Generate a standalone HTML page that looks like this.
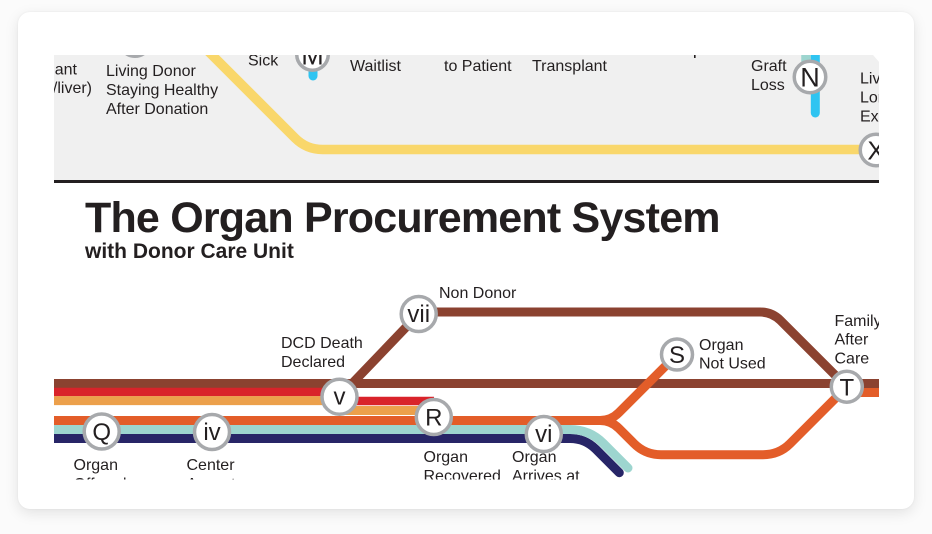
<!DOCTYPE html>
<html>
<head>
<meta charset="utf-8">
<style>
html,body{margin:0;padding:0;}
body{width:932px;height:534px;background:#fbfbfb;position:relative;overflow:hidden;font-family:"Liberation Sans",sans-serif;}
.card{position:absolute;left:18px;top:12px;width:896px;height:497px;background:#fff;border-radius:12px;box-shadow:0 4px 14px rgba(0,0,0,0.10),0 0 2px rgba(0,0,0,0.06);}
svg{position:absolute;left:0;top:0;}
text{font-family:"Liberation Sans",sans-serif;fill:#231F20;}
.lbl{font-size:16px;}
.nd{font-size:24px;text-anchor:middle;}
.ndt{font-size:27px;text-anchor:middle;}
</style>
</head>
<body>
<div class="card"></div>
<svg width="932" height="534" viewBox="0 0 932 534">
  <defs>
    <clipPath id="c"><rect x="54" y="55" width="825" height="424.5"/></clipPath>
  </defs>
  <g clip-path="url(#c)">
    <!-- top grey panel -->
    <rect x="54" y="55" width="826" height="125" fill="#F0F0F0"/>
    <polygon points="873,55 880,55 880,63" fill="#fff"/>
    <rect x="54" y="180" width="826" height="3" fill="#231F20"/>

    <!-- yellow line -->
    <path d="M 202 45 L 295.2 138.2 Q 306.5 149.5 322.5 149.5 L 885 149.5" fill="none" stroke="#F9D76B" stroke-width="9.5"/>

    <!-- N lines -->
    <line x1="806" y1="40" x2="806" y2="77" stroke="#9DD5CF" stroke-width="9.5"/>
    <line x1="815.3" y1="40" x2="815.3" y2="113" stroke="#2FC4F1" stroke-width="9" stroke-linecap="round"/>
    <!-- M line -->
    <line x1="313" y1="54" x2="313" y2="76" stroke="#2FC4F1" stroke-width="9" stroke-linecap="round"/>

    <!-- top nodes -->
    <circle cx="135" cy="40.5" r="15.75" fill="#fff" stroke="#A7A9AC" stroke-width="3.5"/>
    <circle cx="312.5" cy="54.5" r="15.75" fill="#fff" stroke="#A7A9AC" stroke-width="3.5"/>
    <text class="ndt" x="312.5" y="64.5">M</text>
    <circle cx="810" cy="77" r="15.75" fill="#fff" stroke="#A7A9AC" stroke-width="3.5"/>
    <text class="ndt" x="810" y="86.5" style="font-size:27px">N</text>
    <circle cx="876" cy="150" r="15.75" fill="#fff" stroke="#A7A9AC" stroke-width="3.5"/>
    <text class="ndt" x="876" y="159.5" style="font-size:26px">X</text>

    <!-- top labels -->
    <text class="lbl" x="77" y="74.5" text-anchor="end">Transplant</text>
    <text class="lbl" x="92" y="93" text-anchor="end">(w/liver)</text>
    <text class="lbl" x="106" y="76">Living Donor</text>
    <text class="lbl" x="106" y="95">Staying Healthy</text>
    <text class="lbl" x="106" y="114">After Donation</text>
    <text class="lbl" x="248" y="65.5">Sick</text>
    <text class="lbl" x="350" y="71">Waitlist</text>
    <text class="lbl" x="444" y="71">to Patient</text>
    <text class="lbl" x="532" y="71">Transplant</text>
    <rect x="694" y="55" width="1.6" height="3" fill="#231F20"/>
    <text class="lbl" x="751" y="71">Graft</text>
    <text class="lbl" x="751" y="90">Loss</text>
    <text class="lbl" x="860" y="83.5">Living</text>
    <text class="lbl" x="860" y="102.5">Longer</text>
    <text class="lbl" x="860" y="121.5">Expectancy</text>

    <!-- title -->
    <text x="85" y="232" style="font-size:43px;font-weight:bold;letter-spacing:-0.8px">The Organ Procurement System</text>
    <text x="85" y="258" style="font-size:21px;font-weight:bold">with Donor Care Unit</text>

    <!-- bottom lines -->
    <!-- brown -->
    <line x1="40" y1="383.5" x2="890" y2="383.5" stroke="#8B4230" stroke-width="9"/>
    <line x1="339.5" y1="396.7" x2="418.7" y2="314" stroke="#8B4230" stroke-width="9"/>
    <path d="M 418.7 312 H 760 Q 772 312 780.5 320.5 L 847 387" fill="none" stroke="#8B4230" stroke-width="9"/>
    <!-- red & light orange -->
    <path d="M 40 392 H 325 L 345 401 H 434" fill="none" stroke="#D9232A" stroke-width="8.6"/>
    <path d="M 40 400.6 H 325 L 345 410.5 H 434" fill="none" stroke="#ECA04B" stroke-width="9"/>
    <!-- navy & teal -->
    <path d="M 40 438.5 H 570 Q 585.1 438.5 595.7 449.1 L 619.3 472.7" fill="none" stroke="#272567" stroke-width="9" stroke-linecap="round"/>
    <path d="M 40 429.5 H 570 Q 589.5 429.5 603.3 443.3 L 628 468" fill="none" stroke="#9DD5CF" stroke-width="9" stroke-linecap="round"/>
    <!-- orange -->
    <path d="M 40 420.5 H 600 Q 611 420.5 618.8 412.7 L 677 354.5" fill="none" stroke="#E35D29" stroke-width="9"/>
    <path d="M 600 420.5 Q 611 420.5 618.8 428.3 L 634 443.5 Q 645.2 454.7 661 454.7 H 763 Q 779 454.7 790 443.7 L 847 386.7" fill="none" stroke="#E35D29" stroke-width="9"/>
    <line x1="847" y1="392.5" x2="890" y2="392.5" stroke="#E35D29" stroke-width="9"/>

    <!-- bottom nodes -->
    <circle cx="101.7" cy="431.5" r="17.5" fill="#fff" stroke="#A7A9AC" stroke-width="3.5"/>
    <text class="nd" x="101.7" y="440.1">Q</text>
    <circle cx="212" cy="432" r="17.5" fill="#fff" stroke="#A7A9AC" stroke-width="3.5"/>
    <text class="nd" x="212" y="440">iv</text>
    <circle cx="339.5" cy="396.7" r="17.5" fill="#fff" stroke="#A7A9AC" stroke-width="3.5"/>
    <text class="nd" x="339.5" y="404.7">v</text>
    <circle cx="418.7" cy="314" r="17.5" fill="#fff" stroke="#A7A9AC" stroke-width="3.5"/>
    <text class="nd" x="418.7" y="322">vii</text>
    <circle cx="433.8" cy="417" r="17.5" fill="#fff" stroke="#A7A9AC" stroke-width="3.5"/>
    <text class="nd" x="433.8" y="425.6">R</text>
    <circle cx="543.8" cy="434" r="17.5" fill="#fff" stroke="#A7A9AC" stroke-width="3.5"/>
    <text class="nd" x="543.8" y="442">vi</text>
    <circle cx="677" cy="354.5" r="15.5" fill="#fff" stroke="#A7A9AC" stroke-width="3.5"/>
    <text class="nd" x="677" y="363" style="font-size:24px">S</text>
    <circle cx="846.8" cy="386.7" r="15.5" fill="#fff" stroke="#A7A9AC" stroke-width="3.5"/>
    <text class="nd" x="846.8" y="395.3" style="font-size:24px">T</text>

    <!-- bottom labels -->
    <text class="lbl" x="439" y="298">Non Donor</text>
    <text class="lbl" x="281" y="348">DCD Death</text>
    <text class="lbl" x="281" y="367">Declared</text>
    <text class="lbl" x="699" y="350">Organ</text>
    <text class="lbl" x="699" y="368.5">Not Used</text>
    <text class="lbl" x="834.5" y="326">Family</text>
    <text class="lbl" x="834.5" y="344.5">After</text>
    <text class="lbl" x="834.5" y="363.5">Care</text>
    <text class="lbl" x="73.5" y="470">Organ</text>
    <text class="lbl" x="73.5" y="489">Offered</text>
    <text class="lbl" x="186.5" y="470">Center</text>
    <text class="lbl" x="186.5" y="489">Accepts</text>
    <text class="lbl" x="423.5" y="462">Organ</text>
    <text class="lbl" x="423.5" y="481">Recovered</text>
    <text class="lbl" x="512" y="462">Organ</text>
    <text class="lbl" x="512" y="481">Arrives at</text>
  </g>
</svg>
</body>
</html>
